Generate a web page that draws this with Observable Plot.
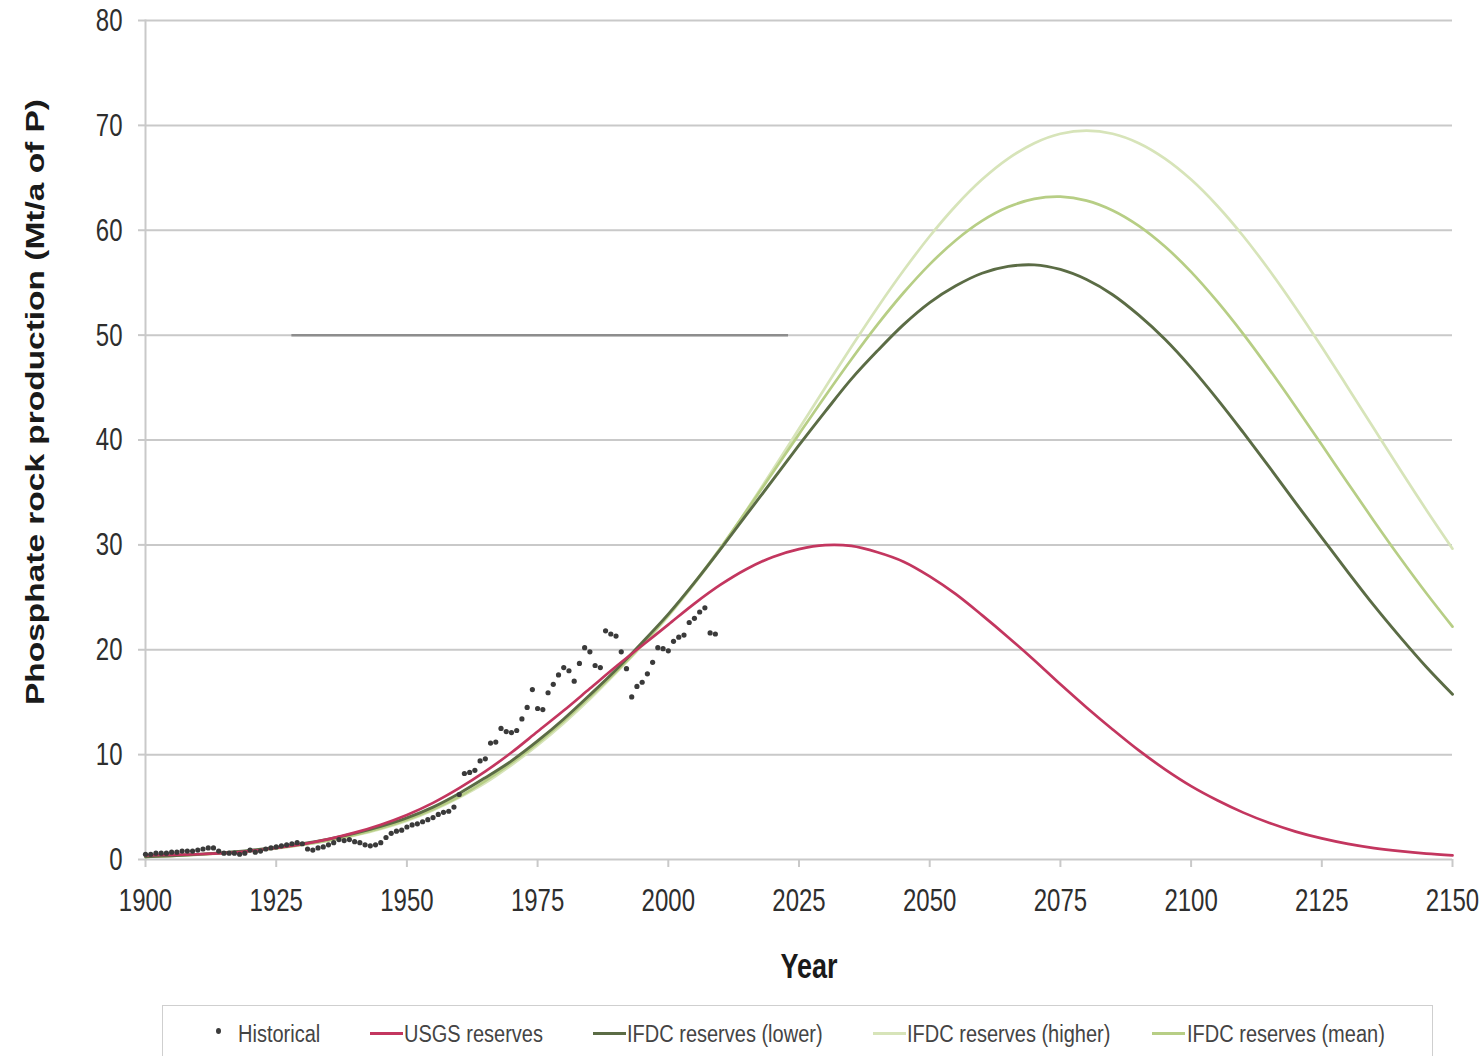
<!DOCTYPE html>
<html>
<head>
<meta charset="utf-8">
<script src="https://cdn.jsdelivr.net/npm/d3@7"></script>
<script src="https://cdn.jsdelivr.net/npm/@observablehq/plot@0.6"></script>
<style>
  body { margin: 0; background: #fff; }
  #wrap { position: relative; width: 1483px; height: 1056px; overflow: hidden; background: #fff; }
  #chart { position: absolute; left: 0; top: 0; }
  #legend { position: absolute; left: 162px; top: 1005px; width: 1271px; height: 52px; border: 1px solid #cfcfcf; box-sizing: border-box; background: #fff; }
  .lt { position: absolute; top: 1023px; font-family: "Liberation Sans", Arial, sans-serif; font-size: 20px; line-height: 22px; color: #444; white-space: nowrap; transform: scaleY(1.15); transform-origin: left center; }
  .ls { position: absolute; top: 1032px; width: 33px; height: 3px; }
  .ld { position: absolute; top: 1028px; width: 5px; height: 6px; border-radius: 50%; background: #3c3c3c; }
</style>
</head>
<body>
<div id="wrap">
  <div id="chart"></div>
  <div id="legend"></div>
</div>
<script>
// ---- Data ----
const years = [1900,1905,1910,1915,1920,1925,1930,1935,1940,1945,1950,1955,1960,1965,1970,1975,1980,1985,1990,1995,
               2000,2005,2010,2015,2020,2025,2030,2035,2040,2045,2050,2055,2060,2065,2070,2075,2080,2085,2090,2095,
               2100,2105,2110,2115,2120,2125,2130,2135,2140,2145,2150];

const usgsReserves = [0.4,0.45,0.5,0.6,0.8,1.1,1.45,1.94,2.56,3.32,4.25,5.4,6.8,8.4,10.2,12.2,14.2,16.3,18.4,20.4,
                      22.4,24.4,26.2,27.7,28.85,29.6,29.98,29.9,29.3,28.4,27.0,25.3,23.3,21.2,19.0,16.7,14.5,12.4,10.4,8.6,
                      7.0,5.65,4.47,3.48,2.66,2.01,1.49,1.09,0.79,0.56,0.39];

const ifdcLower = [0.26,0.36,0.49,0.66,0.87,1.15,1.5,1.94,2.49,3.16,3.97,5.0,6.3,7.8,9.4,11.3,13.4,15.7,18.1,20.7,
                   23.4,26.4,29.6,32.9,36.2,39.5,42.7,45.8,48.5,51.0,53.1,54.7,55.9,56.55,56.7,56.26,55.3,53.85,51.9,49.6,
                   46.9,43.9,40.7,37.4,34.0,30.7,27.4,24.2,21.2,18.35,15.75];

const ifdcHigher = [0.25,0.34,0.46,0.61,0.81,1.06,1.39,1.79,2.3,2.92,3.7,4.7,5.9,7.3,9.0,10.9,13.0,15.3,17.8,20.4,
                    23.2,26.3,29.64,33.33,37.16,41.07,44.99,48.87,52.62,56.16,59.43,62.34,64.83,66.83,68.3,69.2,69.5,69.2,68.3,66.83,
                    64.83,62.34,59.43,56.16,52.62,48.87,44.99,41.07,37.16,33.33,29.64];

const ifdcMean = [0.25,0.34,0.46,0.62,0.82,1.08,1.41,1.83,2.35,2.99,3.8,4.8,6.0,7.5,9.2,11.1,13.2,15.5,17.9,20.5,
                  23.3,26.4,29.72,33.27,36.9,40.56,44.18,47.68,51.0,54.04,56.75,59.05,60.89,62.21,62.99,63.2,62.83,61.89,60.42,58.45,
                  56.03,53.21,50.09,46.71,43.17,39.54,35.88,32.26,28.75,25.39,22.21];

const histYears = [1900,1901,1902,1903,1904,1905,1906,1907,1908,1909,1910,1911,1912,1913,1914,1915,1916,1917,1918,1919,
                   1920,1921,1922,1923,1924,1925,1926,1927,1928,1929,1930,1931,1932,1933,1934,1935,1936,1937,1938,1939,
                   1940,1941,1942,1943,1944,1945,1946,1947,1948,1949,1950,1951,1952,1953,1954,1955,1956,1957,1958,1959,
                   1960,1961,1962,1963,1964,1965,1966,1967,1968,1969,1970,1971,1972,1973,1974,1975,1976,1977,1978,1979,
                   1980,1981,1982,1983,1984,1985,1986,1987,1988,1989,1990,1991,1992,1993,1994,1995,1996,1997,1998,1999,
                   2000,2001,2002,2003,2004,2005,2006,2007,2008,2009];
const historical = [0.5,0.5,0.6,0.6,0.6,0.7,0.7,0.8,0.8,0.8,0.9,1.0,1.1,1.1,0.8,0.6,0.6,0.6,0.5,0.6,
                    0.9,0.7,0.8,1.0,1.1,1.2,1.3,1.4,1.5,1.6,1.5,1.0,0.9,1.1,1.2,1.4,1.6,1.9,1.8,1.9,
                    1.7,1.6,1.4,1.3,1.4,1.6,2.1,2.5,2.7,2.8,3.1,3.3,3.4,3.6,3.8,4.0,4.3,4.5,4.6,5.0,
                    6.2,8.2,8.3,8.5,9.4,9.6,11.1,11.2,12.5,12.2,12.1,12.3,13.4,14.5,16.2,14.4,14.3,15.9,16.7,17.6,
                    18.3,18.0,17.0,18.7,20.2,19.8,18.5,18.3,21.8,21.5,21.3,19.8,18.2,15.5,16.5,16.9,17.7,18.8,20.2,20.1,
                    19.9,20.8,21.2,21.4,22.6,23.0,23.6,24.0,21.6,21.5];

// stray horizontal segment visible in the reference
const strayStart = [1928];
const strayEnd = [2023];
const strayLevel = [50];

const xTicks = [1900,1925,1950,1975,2000,2025,2050,2075,2100,2125,2150];
const yTicks = [0,10,20,30,40,50,60,70,80];

const seriesNames = ["IFDC reserves (higher)","IFDC reserves (mean)","IFDC reserves (lower)","USGS reserves"];
const seriesColors = ["#d7e4b9","#b7ce85","#5b6c45","#c3365f"];
const seriesWidths = [2.7,2.7,2.9,2.7];
const seriesValues = [ifdcHigher, ifdcMean, ifdcLower, usgsReserves];

// ---- Build tables ----
const histRows = histYears.map((y, i) => ({year: y, value: historical[i]}));
const strayRows = strayStart.map((s, i) => ({x1: s, x2: strayEnd[i], y: strayLevel[i]}));
const FONT = '"Liberation Sans", Arial, Helvetica, sans-serif';
const YTITLE = "Phosphate rock production (Mt/a of P)";

const lineMarks = seriesNames.map((name, k) =>
  Plot.line(years.map((y, i) => ({year: y, value: seriesValues[k][i]})), {
    x: "year", y: "value", stroke: seriesColors[k], strokeWidth: seriesWidths[k], curve: "catmull-rom"
  })
);

const chart = Plot.plot({
  width: 1483,
  height: 1000,
  marginLeft: 145,
  marginRight: 31,
  marginTop: 20,
  marginBottom: 141,
  x: {domain: [1900, 2150]},
  y: {domain: [0, 80]},
  style: {fontFamily: FONT, color: "#2e2e2e", background: "#fff"},
  marks: [
    Plot.gridY({ticks: yTicks, stroke: "#c9c9c9", strokeOpacity: 1, strokeWidth: 2}),
    Plot.frame({anchor: "left", stroke: "#c9c9c9", strokeWidth: 2}),
    Plot.axisY({ticks: yTicks, tickSize: 7, tickPadding: 16, fontSize: 24, tickFormat: "d", label: null, stroke: "#c9c9c9", strokeWidth: 2}),
    Plot.axisX({ticks: xTicks, tickSize: 8, tickPadding: 24, fontSize: 24, tickFormat: "d", label: null, stroke: "#c9c9c9", strokeWidth: 2}),
    Plot.ruleY(strayRows, {x1: "x1", x2: "x2", y: "y", stroke: "#8d8d8d", strokeWidth: 2.5}),
    ...lineMarks,
    Plot.dot(histRows, {x: "year", y: "value", r: 2.6, fill: "#3a3a3a", stroke: "none"}),
    Plot.text(["Year"], {frameAnchor: "bottom", dx: 10, dy: 116, fontSize: 27, fontWeight: "bold", fill: "#1a1a1a"}),
    Plot.text([YTITLE], {frameAnchor: "left", textAnchor: "middle", dx: -110, dy: -38, rotate: -90, fontSize: 25, fontWeight: "bold", fill: "#1a1a1a"})
  ]
});
document.getElementById("chart").appendChild(chart);

// vertical stretch of glyphs (the reference's lettering is tall and narrow)
const K = 1.32;
d3.select(chart).selectAll("text").each(function() {
  const t = this.textContent;
  if (t === YTITLE) {
    d3.select(this).attr("textLength", 606).attr("lengthAdjust", "spacingAndGlyphs");
    return;
  }
  const b = this.getBBox();
  const cx = b.x + b.width / 2, cy = b.y + b.height / 2;
  const tr = this.getAttribute("transform") || "";
  this.setAttribute("transform", `${tr} translate(${cx},${cy}) scale(1,${K}) translate(${-cx},${-cy})`);
});

// ---- Legend (HTML below the SVG) ----
const wrap = document.getElementById("wrap");
const legendItems = [
  {type: "dot", name: "Historical", sx: 216, tx: 238},
  {type: "line", name: "USGS reserves", color: "#c3365f", sx: 370, tx: 404},
  {type: "line", name: "IFDC reserves (lower)", color: "#5b6c45", sx: 593, tx: 627},
  {type: "line", name: "IFDC reserves (higher)", color: "#d7e4b9", sx: 873, tx: 907},
  {type: "line", name: "IFDC reserves (mean)", color: "#b7ce85", sx: 1152, tx: 1187}
];
legendItems.forEach(it => {
  const s = document.createElement("div");
  if (it.type === "dot") { s.className = "ld"; s.style.left = it.sx + "px"; }
  else { s.className = "ls"; s.style.left = it.sx + "px"; s.style.background = it.color; }
  wrap.appendChild(s);
  const t = document.createElement("div");
  t.className = "lt";
  t.style.left = it.tx + "px";
  t.textContent = it.name;
  wrap.appendChild(t);
});
</script>
</body>
</html>
